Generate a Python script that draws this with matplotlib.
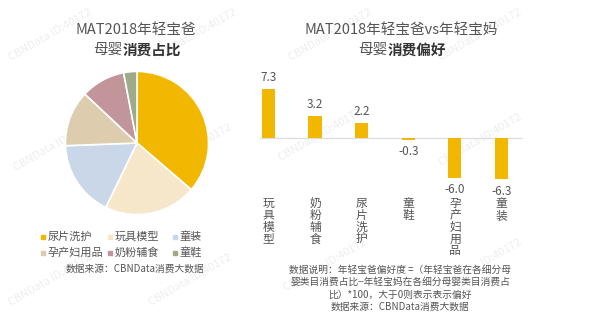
import matplotlib.pyplot as plt
from matplotlib.patches import Rectangle

plt.rcParams['font.family'] = ['Noto Sans CJK SC', 'DejaVu Sans']

# share of spending, young dads (pie)
pie_labels = ["尿片洗护", "玩具模型", "童装", "孕产妇用品", "奶粉辅食", "童鞋"]
pie_values = [36.3, 20.9, 17.2, 12.6, 10.0, 3.0]
pie_colors = ["#F2B700", "#F6E7CB", "#CAD7E9", "#DECCAF", "#C19599", "#9EAA88"]

# preference index, dads vs moms (bars)
bar_labels = ["玩具模型", "奶粉辅食", "尿片洗护", "童鞋", "孕产妇用品", "童装"]
bar_values = [7.3, 3.2, 2.2, -0.3, -6.0, -6.3]

W, H = 600, 323
fig = plt.figure(figsize=(W / 100, H / 100), dpi=100)
fig.patch.set_facecolor("white")


def px(x, y, w, h):
    # pixel box (top-left origin) -> figure fraction
    return [x / W, 1 - (y + h) / H, w / W, h / H]


# overlay for free text in pixel coords
ov = fig.add_axes([0, 0, 1, 1], zorder=0)
ov.set_xlim(0, W)
ov.set_ylim(H, 0)
ov.axis("off")

# faint watermark tiles
for wx, wy in [(50, 35), (195, 35), (330, 35), (480, 35),
               (55, 145), (190, 150), (320, 135), (480, 140),
               (50, 280), (190, 280), (325, 265), (480, 265)]:
    ov.text(wx, wy, "CBNData ID:40172", fontsize=8, color="#eeeeee",
            rotation=30, ha="center", va="center", zorder=0)

# pie
ax1 = fig.add_axes(px(64, 70, 146, 146), zorder=2)
ax1.pie(pie_values, colors=pie_colors, startangle=90, counterclock=False,
        radius=1.0, wedgeprops=dict(edgecolor="white", linewidth=1.2))
ax1.set_xlim(-1.02, 1.02)
ax1.set_ylim(-1.02, 1.02)
ax1.set_aspect("equal")

title_c = "#555555"
ov.text(136, 30, "MAT2018年轻宝爸", fontsize=10.5, color=title_c, ha="center", va="center")
ov.text(122.5, 50, "母婴", fontsize=10.5, color=title_c, ha="right", va="center")
ov.text(122.5, 50, "消费占比", fontsize=10.5, color="#333333", ha="left", va="center", fontweight="bold")

# legend, three columns by two rows
leg_x = [43, 110, 175]
leg_y = [237, 253]
for i, (lab, col) in enumerate(zip(pie_labels, pie_colors)):
    r, c = divmod(i, 3)
    ov.add_patch(Rectangle((leg_x[c] - 2, leg_y[r] - 2), 4, 4, color=col, zorder=3))
    ov.text(leg_x[c] + 5, leg_y[r], lab, fontsize=8, color="#555555", ha="left", va="center")
ov.text(135.5, 269, "数据来源：CBNData消费大数据", fontsize=7, color="#555555", ha="center", va="center")

# bars
ax2 = fig.add_axes(px(260, 80, 263, 105), zorder=2)
xs = list(range(len(bar_values)))
ax2.bar(xs, bar_values, width=0.28, color="#F2B700", zorder=2)
ax2.axhline(0, color="#dddddd", linewidth=0.9, zorder=1)
ax2.set_xlim(-0.18, 5.46)
ax2.set_ylim(-7.13, 8.7)
ax2.axis("off")
for x, v in zip(xs, bar_values):
    if v >= 0:
        ax2.annotate(f"{v:.1f}", (x, v), xytext=(0, 4), textcoords="offset points",
                     ha="center", va="bottom", fontsize=8.5, color="#555555")
    else:
        ax2.annotate(f"{v:.1f}", (x, v), xytext=(0, -4), textcoords="offset points",
                     ha="center", va="top", fontsize=8.5, color="#555555")

bar_px = [268.5, 315, 361.5, 408.5, 455, 501.5]
for bx, lab in zip(bar_px, bar_labels):
    ov.text(bx, 197, "\n".join(lab), fontsize=8.5, color="#555555", ha="center",
            va="top", linespacing=0.88)

ov.text(401, 30, "MAT2018年轻宝爸vs年轻宝妈", fontsize=10.5, color=title_c, ha="center", va="center")
ov.text(387.5, 50, "母婴", fontsize=10.5, color=title_c, ha="right", va="center")
ov.text(387.5, 50, "消费偏好", fontsize=10.5, color="#333333", ha="left", va="center", fontweight="bold")

notes = ["数据说明：年轻宝爸偏好度 =（年轻宝爸在各细分母",
         "婴类目消费占比−年轻宝妈在各细分母婴类目消费占",
         "比）*100，大于0则表示表示偏好",
         "数据来源：CBNData消费大数据"]
for ny, line in zip([270, 282, 295, 307], notes):
    ov.text(400, ny, line, fontsize=7, color="#555555", ha="center", va="center")

fig.savefig("out.png", dpi=100, facecolor="white")
